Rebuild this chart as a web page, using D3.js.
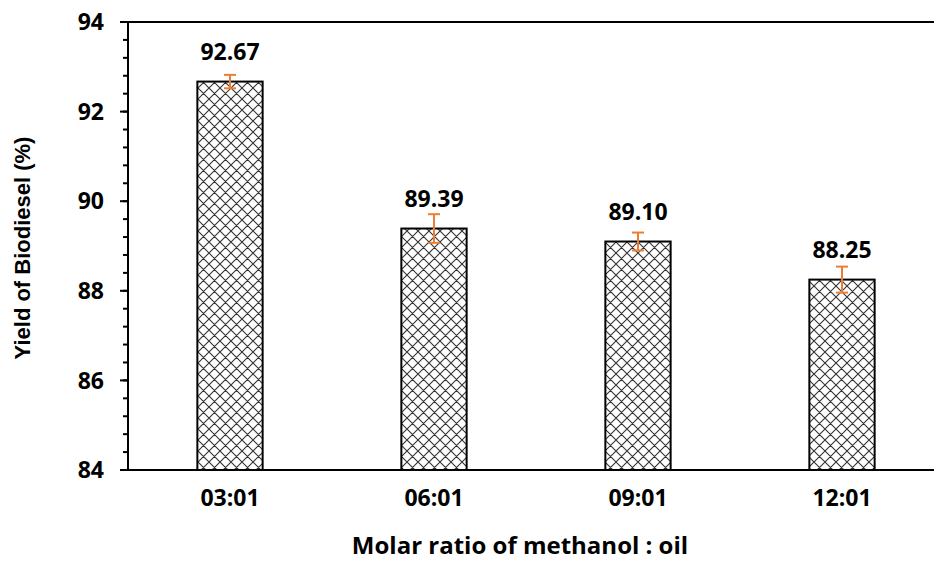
<!DOCTYPE html>
<html>
<head>
<meta charset="utf-8">
<script src="https://cdn.jsdelivr.net/npm/d3@7"></script>
<style>
  html, body { margin: 0; padding: 0; background: #fff; }
  svg { display: block; }
</style>
</head>
<body>
<svg id="chart" width="934" height="562"></svg>
<script>
// Biodiesel yield versus methanol-to-oil molar ratio
const categories = ["03:01", "06:01", "09:01", "12:01"];
const yields = [92.67, 89.39, 89.10, 88.25];
const errors = [0.15, 0.32, 0.20, 0.29];
const yTicks = [84, 86, 88, 90, 92, 94];

const svg = d3.select("#chart");
const margin = { left: 128, top: 22, right: -10, bottom: 92 };
const W = 934, H = 562;
const FONT = "'Open Sans', sans-serif";

const x = d3.scaleBand()
  .domain(categories)
  .range([margin.left, W - margin.right])
  .paddingInner(0.68)
  .paddingOuter(0.34);

const y = d3.scaleLinear()
  .domain([84, 94])
  .range([H - margin.bottom, margin.top]);

// Cross-hatch fill for bars
const defs = svg.append("defs");
const pat = defs.append("pattern")
  .attr("id", "hatch")
  .attr("patternUnits", "userSpaceOnUse")
  .attr("width", 11).attr("height", 11)
  .attr("x", 0).attr("y", 0);
pat.append("rect").attr("width", 11).attr("height", 11).attr("fill", "#fff");
pat.append("path")
  .attr("d", "M0,0 L11,11 M11,0 L0,11 M-1,10 L1,12 M10,-1 L12,1 M-1,1 L1,-1 M10,12 L12,10")
  .attr("stroke", "#333").attr("stroke-width", 1.1).attr("fill", "none");

// Bars
svg.append("g").selectAll("rect")
  .data(categories)
  .join("rect")
  .attr("x", d => x(d))
  .attr("width", x.bandwidth())
  .attr("y", (d, i) => y(yields[i]))
  .attr("height", (d, i) => y(84) - y(yields[i]))
  .attr("fill", "url(#hatch)")
  .attr("stroke", "#000")
  .attr("stroke-width", 2);

// Error bars
const eb = svg.append("g").attr("stroke", "#ED7D31").attr("stroke-width", 2).attr("fill", "none");
categories.forEach((c, i) => {
  const cx = x(c) + x.bandwidth() / 2;
  const y0 = y(yields[i] - errors[i]);
  const y1 = y(yields[i] + errors[i]);
  eb.append("line").attr("x1", cx).attr("x2", cx).attr("y1", y0).attr("y2", y1);
  eb.append("line").attr("x1", cx - 6).attr("x2", cx + 6).attr("y1", y0).attr("y2", y0);
  eb.append("line").attr("x1", cx - 6).attr("x2", cx + 6).attr("y1", y1).attr("y2", y1);
});

// Value labels
svg.append("g").selectAll("text")
  .data(categories)
  .join("text")
  .attr("x", d => x(d) + x.bandwidth() / 2)
  .attr("y", (d, i) => y(yields[i]) - 22)
  .attr("text-anchor", "middle")
  .attr("font-family", FONT)
  .attr("font-weight", 700)
  .attr("font-size", 23)
  .attr("fill", "#000")
  .text((d, i) => yields[i].toFixed(2));

// Y axis with minor ticks
const minorTicks = d3.range(84, 94.001, 0.4);
const ya = svg.append("g");
ya.selectAll("line.minor")
  .data(minorTicks)
  .join("line")
  .attr("x1", margin.left - 5).attr("x2", margin.left)
  .attr("y1", d => y(d)).attr("y2", d => y(d))
  .attr("stroke", "#000").attr("stroke-width", 2);
ya.selectAll("line.major")
  .data(yTicks)
  .join("line")
  .attr("x1", margin.left - 8).attr("x2", margin.left)
  .attr("y1", d => y(d)).attr("y2", d => y(d))
  .attr("stroke", "#000").attr("stroke-width", 2);
ya.append("line")
  .attr("x1", margin.left).attr("x2", margin.left)
  .attr("y1", y(94)).attr("y2", y(84))
  .attr("stroke", "#000").attr("stroke-width", 2);
ya.selectAll("text")
  .data(yTicks)
  .join("text")
  .attr("x", margin.left - 24)
  .attr("y", d => y(d))
  .attr("dy", "0.36em")
  .attr("text-anchor", "end")
  .attr("font-family", FONT)
  .attr("font-weight", 700)
  .attr("font-size", 23)
  .text(d => d);

// Top and bottom frame lines
svg.append("line")
  .attr("x1", margin.left - 8).attr("x2", W)
  .attr("y1", y(94)).attr("y2", y(94))
  .attr("stroke", "#000").attr("stroke-width", 2);
svg.append("line")
  .attr("x1", margin.left - 8).attr("x2", W)
  .attr("y1", y(84)).attr("y2", y(84))
  .attr("stroke", "#000").attr("stroke-width", 2);

// X category labels
svg.append("g").selectAll("text")
  .data(categories)
  .join("text")
  .attr("x", d => x(d) + x.bandwidth() / 2)
  .attr("y", y(84) + 36)
  .attr("text-anchor", "middle")
  .attr("font-family", FONT)
  .attr("font-weight", 700)
  .attr("font-size", 23)
  .text(d => d);

// Axis titles
svg.append("text")
  .attr("x", 520).attr("y", 554)
  .attr("text-anchor", "middle")
  .attr("font-family", FONT)
  .attr("font-weight", 700)
  .attr("font-size", 24)
  .text("Molar ratio of methanol : oil");

svg.append("text")
  .attr("transform", `translate(30, ${(y(84) + y(94)) / 2 + 2}) rotate(-90)`)
  .attr("text-anchor", "middle")
  .attr("font-family", "'Liberation Sans', Arial, sans-serif")
  .attr("font-weight", 700)
  .attr("font-size", 22)
  .text("Yield of Biodiesel (%)");
</script>
</body>
</html>
